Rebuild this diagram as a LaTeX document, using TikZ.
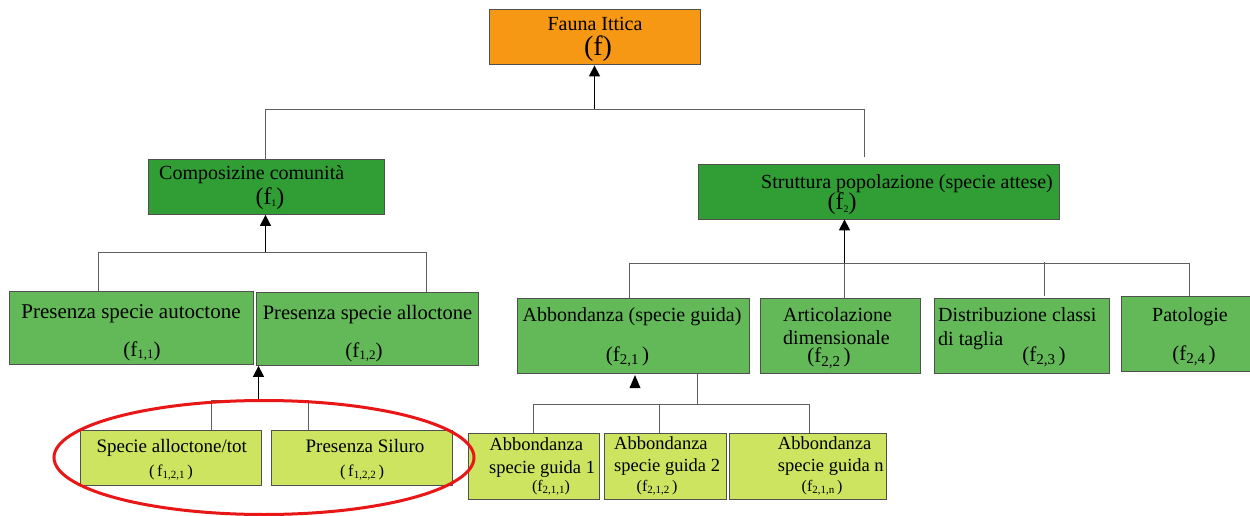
\documentclass[tikz,border=0pt]{standalone}
\usepackage{fontspec}
\setmainfont{Liberation Serif}
\usetikzlibrary{arrows.meta}
\definecolor{orangeF}{RGB}{246,152,20}
\definecolor{darkG}{RGB}{48,158,52}
\definecolor{midG}{RGB}{99,185,88}
\definecolor{lightG}{RGB}{205,228,96}
\definecolor{bordC}{RGB}{80,80,80}
\definecolor{lineC}{RGB}{95,95,95}
\definecolor{ringR}{RGB}{232,22,22}
\newcommand{\lsub}[3]{\raisebox{#1}{\fontsize{#2}{#2}\selectfont #3}}
\tikzset{
  box/.style={draw=bordC, line width=0.9pt, rectangle, anchor=north west, inner sep=0pt},
  txt/.style={inner sep=0pt, anchor=base, font=\fontsize{20}{22}\selectfont},
  txtw/.style={inner sep=0pt, anchor=base west, font=\fontsize{20}{22}\selectfont},
  leaftxt/.style={inner sep=0pt, anchor=base west, font=\fontsize{18.5}{20}\selectfont},
  lab/.style={inner sep=0pt, anchor=center},
  conn/.style={draw=lineC, line width=1pt},
  arr/.style={draw=black, line width=1.5pt, -{Triangle[width=11pt,length=11pt]}},
}
\begin{document}
\begin{tikzpicture}[x=1pt,y=-1pt]
\useasboundingbox[fill=white] (0,0) rectangle (1250,516);

% junction coordinates
\coordinate (jF) at (594.5,110);
\coordinate (jFL) at (265.5,110);
\coordinate (jFR) at (864,110);
\coordinate (eFR) at (864,157);
\coordinate (jC) at (265.5,252);
\coordinate (jCL) at (98.5,252);
\coordinate (jCR) at (426.5,252);
\coordinate (jL) at (258.5,400);
\coordinate (jLL) at (211,400);
\coordinate (jLR) at (308.5,400);
\coordinate (jS) at (844.5,263);
\coordinate (jSa) at (629,263);
\coordinate (jSd) at (1044,262);
\coordinate (eSd) at (1044,296);
\coordinate (jSp) at (1189.5,263);
\coordinate (jA) at (697.5,404);
\coordinate (jAL) at (533.5,404);
\coordinate (jAM) at (659,404);
\coordinate (jAR) at (809,404);
\coordinate (tAbb) at (635,375);

% boxes
\node[box, fill=orangeF, minimum width=211pt, minimum height=55pt] (fauna) at (489,9.5) {};
\node[box, fill=darkG, minimum width=236pt, minimum height=55.5pt] (comp) at (148,158.5) {};
\node[box, fill=darkG, minimum width=361pt, minimum height=55pt] (strut) at (697.5,163.5) {};
\node[box, fill=midG, minimum width=244pt, minimum height=73pt] (auto) at (8.5,291) {};
\node[box, fill=midG, minimum width=222pt, minimum height=73pt] (allo) at (256,292) {};
\node[box, fill=lightG, minimum width=181pt, minimum height=55pt] (sat) at (79.5,430) {};
\node[box, fill=lightG, minimum width=181pt, minimum height=55pt] (sil) at (271,430) {};
\node[box, fill=midG, minimum width=231.5pt, minimum height=75pt] (abb) at (517,298) {};
\node[box, fill=midG, minimum width=159.5pt, minimum height=75pt] (art) at (760,298) {};
\node[box, fill=midG, minimum width=175pt, minimum height=75pt] (dis) at (934,298) {};
\node[box, fill=midG, minimum width=135pt, minimum height=75pt] (pat) at (1121,296) {};
\node[box, fill=lightG, minimum width=130.5pt, minimum height=66pt] (ab1) at (468,433) {};
\node[box, fill=lightG, minimum width=122.5pt, minimum height=66pt] (ab2) at (603.5,432.5) {};
\node[box, fill=lightG, minimum width=157pt, minimum height=66pt] (abn) at (729,432.5) {};

% connectors
\draw[arr] (jF) -- (jF |- fauna.south);
\draw[conn] (jFL |- comp.north) -- (jFL) -- (jFR) -- (eFR);
\draw[arr] (jC) -- (jC |- comp.south);
\draw[conn] (jCL |- auto.north) -- (jCL) -- (jCR) -- (jCR |- allo.north);
\draw[arr] (jL) -- (jL |- allo.south);
\draw[conn] (jLL |- sat.north) -- (jLL) -- (jLR) -- (jLR |- sil.north);
\draw[arr] (jS) -- (jS |- strut.south);
\draw[conn] (jS) -- (jS |- art.north);
\draw[conn] (jSa |- abb.north) -- (jSa) -- (jSp) -- (jSp |- pat.north);
\draw[conn] (jSd) -- (eSd);
\fill[black] (tAbb) ++(-5.5,13) -- ++(11,0) -- (tAbb) -- cycle;
\draw[conn, line width=1.3pt] (jA |- abb.south) -- (jA);
\draw[conn] (jAL |- ab1.north) -- (jAL) -- (jAR) -- (jAR |- abn.north);
\draw[conn] (jAM) -- (jAM |- ab2.north);

% texts
\node[txt] (tF) at (595,31) {Fauna Ittica};
\node[lab, font=\fontsize{28}{28}\selectfont] (lF) at (598,49) {(f)};
\node[txtw] (tC) at (159,179) {Composizine comunità};
\node[lab, font=\fontsize{24}{24}\selectfont] (lC) at (270,199) {(f\lsub{-2pt}{10}{1})};
\node[txt] (tS) at (907,188) {Struttura popolazione (specie attese)};
\node[lab, font=\fontsize{24}{24}\selectfont] (lS) at (842,204) {(f\lsub{-3pt}{10}{2})};
\node[txt, font=\fontsize{21}{23}\selectfont] (tA) at (131,318) {Presenza specie autoctone};
\node[lab, font=\fontsize{21}{21}\selectfont] (lA) at (142,351) {(f\lsub{-2pt}{13}{1,1})};
\node[txt, font=\fontsize{20.5}{23}\selectfont] (tL) at (367.5,319) {Presenza specie alloctone};
\node[lab, font=\fontsize{21}{21}\selectfont] (lL) at (364,352) {(f\lsub{-2pt}{13}{1,2})};
\node[txt, font=\fontsize{19}{21}\selectfont] (tSA) at (171.7,452.7) {Specie alloctone/tot};
\node[lab, font=\fontsize{16.5}{16.5}\selectfont] (lSA) at (171,472.5) {(\,f\lsub{-1.5pt}{11}{1,2,1}\,)};
\node[txt, font=\fontsize{19}{21}\selectfont] (tSI) at (365,452.7) {Presenza Siluro};
\node[lab, font=\fontsize{16.5}{16.5}\selectfont] (lSI) at (362,472.5) {(\,f\lsub{-1.5pt}{11}{1,2,2}\,)};
\node[txt] (tAB) at (632,321.7) {Abbondanza (specie guida)};
\node[lab, font=\fontsize{21}{21}\selectfont] (lAB) at (627.5,357) {(f\lsub{-3.5pt}{15}{2,1}\,)};
\node[txt] (tAR1) at (837.5,321.7) {Articolazione};
\node[txt] (tAR2) at (836.5,344) {dimensionale};
\node[lab, font=\fontsize{21}{21}\selectfont] (lAR) at (829,358.5) {(f\lsub{-3.5pt}{15}{2,2}\,)};
\node[txtw] (tD1) at (938,321.7) {Distribuzione classi};
\node[txtw] (tD2) at (938,345) {di taglia};
\node[lab, font=\fontsize{21}{21}\selectfont] (lD) at (1044,357) {(f\lsub{-3.5pt}{15}{2,3}\,)};
\node[txt] (tP) at (1190,321.7) {Patologie};
\node[lab, font=\fontsize{21}{21}\selectfont] (lP) at (1194,356) {(f\lsub{-3.5pt}{15}{2,4}\,)};
\node[leaftxt] (t11) at (489.3,450.7) {Abbondanza};
\node[leaftxt] (t12) at (489,473.3) {specie guida 1};
\node[lab, font=\fontsize{16}{16}\selectfont] (l1) at (551,488) {(f\lsub{-1.5pt}{11}{2,1,1})};
\node[leaftxt] (t21) at (614,449.3) {Abbondanza};
\node[leaftxt] (t22) at (614,471.7) {specie guida 2};
\node[lab, font=\fontsize{16}{16}\selectfont] (l2) at (657,488) {(f\lsub{-1.5pt}{11}{2,1,2}\,)};
\node[leaftxt] (tn1) at (777.7,449.3) {Abbondanza};
\node[leaftxt] (tn2) at (777.7,471.7) {specie guida n};
\node[lab, font=\fontsize{16}{16}\selectfont] (ln) at (822,488) {(f\lsub{-1.5pt}{11}{2,1,n}\,)};

% red ring
\draw[ringR, line width=3pt] (264,457.5) ellipse [x radius=210, y radius=57];
\end{tikzpicture}
\end{document}
